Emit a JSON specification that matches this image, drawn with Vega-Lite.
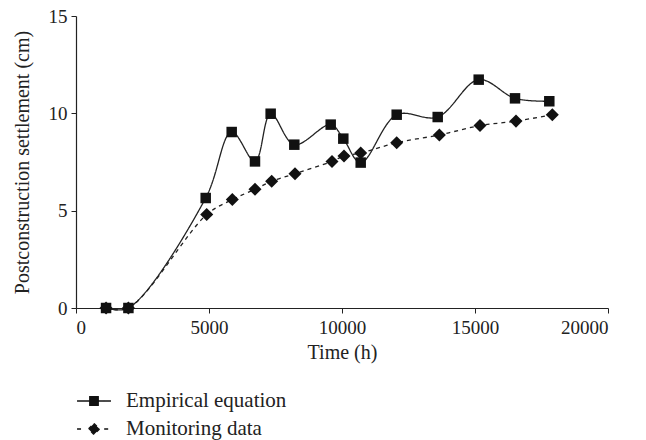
{
  "$schema": "https://vega.github.io/schema/vega-lite/v6.json",
  "width": 532,
  "height": 292,
  "autosize": {"type": "none"},
  "padding": {"left": 76, "top": 16, "right": 38, "bottom": 132},
  "background": "white",
  "config": {
    "view": {"stroke": null},
    "axis": {
      "grid": false,
      "domainColor": "#222",
      "domainWidth": 1.2,
      "tickColor": "#222",
      "tickSize": 5,
      "labelFont": "Liberation Serif",
      "labelFontSize": 19,
      "labelColor": "#222",
      "titleFont": "Liberation Serif",
      "titleFontSize": 20,
      "titleFontWeight": "normal",
      "titleColor": "#222"
    },
    "legend": {
      "labelFont": "Liberation Serif",
      "labelFontSize": 21,
      "labelColor": "#222",
      "labelLimit": 400
    }
  },
  "data": {
    "values": [
      {"series": "Empirical equation", "time": 1130, "settlement": 0},
      {"series": "Empirical equation", "time": 1970, "settlement": 0},
      {"series": "Empirical equation", "time": 4876, "settlement": 5.65},
      {"series": "Empirical equation", "time": 5853, "settlement": 9.04},
      {"series": "Empirical equation", "time": 6729, "settlement": 7.53},
      {"series": "Empirical equation", "time": 7318, "settlement": 9.98},
      {"series": "Empirical equation", "time": 8207, "settlement": 8.39},
      {"series": "Empirical equation", "time": 9575, "settlement": 9.42},
      {"series": "Empirical equation", "time": 10049, "settlement": 8.7},
      {"series": "Empirical equation", "time": 10703, "settlement": 7.47},
      {"series": "Empirical equation", "time": 12056, "settlement": 9.93},
      {"series": "Empirical equation", "time": 13598, "settlement": 9.81},
      {"series": "Empirical equation", "time": 15139, "settlement": 11.73},
      {"series": "Empirical equation", "time": 16504, "settlement": 10.77},
      {"series": "Empirical equation", "time": 17793, "settlement": 10.62},
      {"series": "Monitoring data", "time": 1130, "settlement": 0},
      {"series": "Monitoring data", "time": 1970, "settlement": 0},
      {"series": "Monitoring data", "time": 4914, "settlement": 4.8},
      {"series": "Monitoring data", "time": 5877, "settlement": 5.57},
      {"series": "Monitoring data", "time": 6729, "settlement": 6.1},
      {"series": "Monitoring data", "time": 7356, "settlement": 6.51},
      {"series": "Monitoring data", "time": 8233, "settlement": 6.9},
      {"series": "Monitoring data", "time": 9624, "settlement": 7.53},
      {"series": "Monitoring data", "time": 10075, "settlement": 7.81},
      {"series": "Monitoring data", "time": 10703, "settlement": 7.96},
      {"series": "Monitoring data", "time": 12056, "settlement": 8.49},
      {"series": "Monitoring data", "time": 13660, "settlement": 8.89},
      {"series": "Monitoring data", "time": 15188, "settlement": 9.37},
      {"series": "Monitoring data", "time": 16541, "settlement": 9.6},
      {"series": "Monitoring data", "time": 17906, "settlement": 9.93}
    ]
  },
  "encoding": {
    "x": {
      "field": "time",
      "type": "quantitative",
      "title": "Time (h)",
      "scale": {"domain": [0, 20000], "nice": false},
      "axis": {"values": [0, 5000, 10000, 15000, 20000], "format": "d", "labelPadding": 5, "titlePadding": 5}
    },
    "y": {
      "field": "settlement",
      "type": "quantitative",
      "title": "Postconstruction settlement (cm)",
      "scale": {"domain": [0, 15], "nice": false},
      "axis": {"values": [0, 5, 10, 15], "labelPadding": 4, "titlePadding": 16}
    }
  },
  "layer": [
    {
      "mark": {"type": "line", "interpolate": "catmull-rom", "color": "#222", "strokeWidth": 1.3},
      "encoding": {
        "detail": {"field": "series", "type": "nominal"},
        "strokeDash": {
          "field": "series",
          "type": "nominal",
          "scale": {"domain": ["Empirical equation", "Monitoring data"], "range": [[1, 0], [4, 4]]},
          "legend": {
            "orient": "none",
            "legendX": 0,
            "legendY": 367,
            "title": null,
            "direction": "vertical",
            "rowPadding": -6,
            "labelOffset": 14,
            "labelLimit": 400,
            "symbolSize": 1150,
            "symbolType": "M-1,0H1",
            "symbolFillColor": "#111",
            "symbolStrokeColor": "#111",
            "symbolStrokeWidth": 1.3,
            "encode": {
              "symbols": {
                "update": {
                  "shape": {"signal": "datum.value === 'Empirical equation' ? 'M-1,0H1M-0.25,-0.25H0.25V0.25H-0.25Z' : 'M-1,0H-0.6M0.6,0H1M0,-0.33L0.33,0L0,0.33L-0.33,0Z'"},
                  "fill": {"value": "#111"},
                  "stroke": {"value": "#111"},
                  "strokeDash": {"value": [1, 0]},
                  "strokeWidth": {"value": 1.3},
                  "opacity": {"value": 1}
                }
              }
            }
          }
        }
      }
    },
    {
      "transform": [{"filter": "datum.series === 'Empirical equation'"}],
      "mark": {"type": "point", "shape": "square", "filled": true, "color": "#111", "opacity": 1, "size": 110}
    },
    {
      "transform": [{"filter": "datum.series === 'Monitoring data'"}],
      "mark": {"type": "point", "shape": "diamond", "filled": true, "color": "#111", "opacity": 1, "size": 170}
    }
  ]
}
